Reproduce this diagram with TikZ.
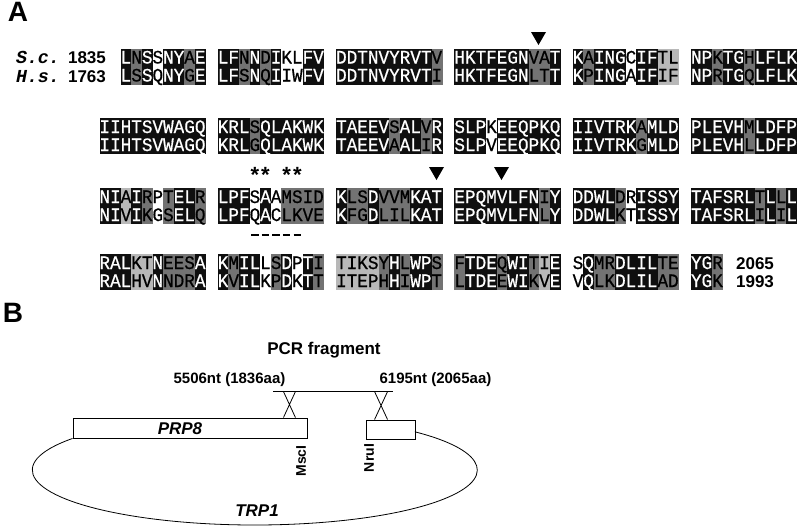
\documentclass[tikz,border=0pt]{standalone}
\usepackage{fontspec}
\setmainfont{Liberation Sans}
\newfontfamily\resfont[FakeStretch=0.93,FakeBold=0.6]{Liberation Mono}
\newfontfamily\specfont{Liberation Mono}
\usetikzlibrary{calc}

\definecolor{shk}{gray}{0.06}
\definecolor{shd}{gray}{0.45}
\definecolor{shl}{gray}{0.72}
\definecolor{shw}{gray}{1}
\colorlet{txk}{white}
\colorlet{txd}{black}
\colorlet{txl}{black}
\colorlet{txw}{black}

\newcommand\resw{10.6}
% one alignment block: x start, y of S.c. row, S.c. residues, H.s. residues, shade codes
\def\splitres#1#2\alnstop{\def\reshd{#1}\def\restl{#2}}
\newcommand\alnblock[5]{%
  \def\alnx{#1}\def\alny{#2}%
  \def\alnsc{#3}\def\alnhs{#4}\def\alncd{#5}%
  \def\alni{0}%
  \alnstep}
\newcommand\alnstep{%
  \ifx\alnsc\empty\else
    \expandafter\splitres\alnsc\alnstop\let\rsc\reshd\let\alnsc\restl
    \expandafter\splitres\alnhs\alnstop\let\rhs\reshd\let\alnhs\restl
    \expandafter\splitres\alncd\alnstop\let\rcd\reshd\let\alncd\restl
    \pgfmathsetmacro\alncx{\alnx+\alni*\resw}%
    \fill[fill=sh\rcd] (\alncx,\alny-9) rectangle ++(\resw+0.4,36);
    \node[res,text=tx\rcd] at (\alncx+\resw/2,\alny+6) {\rsc};
    \node[res,text=tx\rcd] at (\alncx+\resw/2,\alny+24) {\rhs};
    \pgfmathtruncatemacro\alni{\alni+1}%
    \expandafter\alnstep
  \fi}

\tikzset{
  res/.style={font=\resfont\fontsize{19}{19}\selectfont,inner sep=0pt,anchor=base},
  spec/.style={font=\specfont\bfseries\itshape\fontsize{18.3}{18.3}\selectfont,inner sep=0pt,anchor=base},
  num/.style={font=\bfseries\fontsize{17}{17}\selectfont,inner sep=0pt,anchor=base},
  panel/.style={font=\bfseries\fontsize{28}{28}\selectfont,inner sep=0pt},
  lbl/.style={font=\bfseries\fontsize{15}{15}\selectfont,inner sep=0pt},
  gene/.style={font=\bfseries\itshape\fontsize{17}{17}\selectfont,inner sep=0pt},
  site/.style={font=\bfseries\fontsize{14}{14}\selectfont,inner sep=0pt,rotate=90},
  seg/.style={draw,line width=0.9pt,fill=white,inner sep=0pt},
  starmark/.style={font=\bfseries\fontsize{22}{22}\selectfont,inner sep=0pt,anchor=base}
}

\begin{document}
\begin{tikzpicture}[x=1pt,y=-1pt]
  \useasboundingbox (0,0) rectangle (800,528);
  \node[panel] (pa) at (18,12) {A};
  % species and start numbers
  \node[spec] (sc) at (38,63) {S.c.};
  \node[spec] (hs) at (38,82) {H.s.};
  \node[num] (sc1) at (87,63) {1835};
  \node[num] (hs1) at (87,82) {1763};
  % row 1
  \alnblock{120.7}{57.5}{LNSSNYAE}{LSSQNYGE}{kdkwkkdk}
  \alnblock{217.8}{57.5}{LFNNDIKLFV}{LFSNQIIWFV}{kkdkdkwwkk}
  \alnblock{336.1}{57.5}{DDTNVYRVTV}{DDTNVYRVTI}{kkkkkkkkkd}
  \alnblock{454.4}{57.5}{HKTFEGNVAT}{HKTFEGNLTT}{kkkkkkkddk}
  \alnblock{572.7}{57.5}{KAINGCIFTL}{KPINGAIFIF}{kdkkkwkkll}
  \alnblock{691}{57.5}{NPKTGHLFLK}{NPRTGQLFLK}{kkdkkdkkkk}
  % row 2
  \alnblock{99.5}{127}{IIHTSVWAGQ}{IIHTSVWAGQ}{kkkkkkkkkk}
  \alnblock{217.8}{127}{KRLSQLAKWK}{KRLGQLAKWK}{kkkdkkkkkk}
  \alnblock{336.1}{127}{TAEEVSALVR}{TAEEVAALIR}{kkkkkdkkdk}
  \alnblock{454.4}{127}{SLPKEEQPKQ}{SLPVEEQPKQ}{kkkwkkkkkk}
  \alnblock{572.7}{127}{IIVTRKAMLD}{IIVTRKGMLD}{kkkkkkdkkk}
  \alnblock{691}{127}{PLEVHMLDFP}{PLEVHLLDFP}{kkkkkdkkkk}
  % row 3
  \alnblock{99.5}{197}{NIAIRPTELR}{NIVIKGSELQ}{kklkdwdkkd}
  \alnblock{217.8}{197}{LPFSAAMSID}{LPFQACLKVE}{kkkwkwdddd}
  \alnblock{336.1}{197}{KLSDVVMKAT}{KFGDLILKAT}{kddkdddkkk}
  \alnblock{454.4}{197}{EPQMVLFNIY}{EPQMVLFNLY}{kkkkkkkkdk}
  \alnblock{572.7}{197}{DDWLDRISSY}{DDWLKTISSY}{kkkkdwkkkk}
  \alnblock{691}{197}{TAFSRLTLLL}{TAFSRLILIL}{kkkkkkdkdk}
  % row 4
  \alnblock{99.5}{263}{RALKTNEESA}{RALHVNNDRA}{kkkllkdddk}
  \alnblock{217.8}{263}{KMILLSDPTI}{KVILKPDKTT}{kdkkwdkwkd}
  \alnblock{336.1}{263}{TIKSYHLWPS}{ITEPHHIWPT}{lllldkdkkd}
  \alnblock{454.4}{263}{FTDEQWITIE}{LTDEEWIKVE}{dkkkdkkdlk}
  \alnblock{572.7}{263}{SQMRDLILTE}{VQLKDLILAD}{wkddkkkkdd}
  \alnblock{691}{263}{YGR}{YGK}{kkd}
  \node[num] (sc2) at (755,269) {2065};
  \node[num] (hs2) at (755,287) {1993};
  % arrowheads, stars, dashes
  \fill (531,32) -- (546,32) -- (538.5,45) -- cycle;
  \fill (429,167) -- (444,167) -- (436.5,180) -- cycle;
  \fill (494,167) -- (509,167) -- (501.5,180) -- cycle;
  \foreach \i in {3,4,6,7}
    \node[starmark] at (217.8+\i*10.6+5.3,182) {*};
  \foreach \i in {3,...,7}
    \draw[line width=2pt] (217.8+\i*10.6+1.5,235) -- ++(7.5,0);

  \node[panel] (pb) at (13,313) {B};
  \node[lbl,font=\bfseries\fontsize{17}{17}\selectfont] (pcr) at (324,350) {PCR fragment};
  \node[lbl] (nt1) at (229.5,380) {5506nt (1836aa)};
  \node[lbl] (nt2) at (435.5,380) {6195nt (2065aa)};
  \coordinate (fragL) at (273,391);
  \coordinate (fragR) at (393,391);
  \draw[line width=0.9pt] (fragL) -- (fragR);
  \node[seg,minimum width=234pt,minimum height=20pt] (prp) at (190,428) {};
  \node[gene] (prptxt) at (180,429) {PRP8};
  \node[seg,minimum width=49pt,minimum height=19pt] (tail) at (390.5,429.5) {};
  % crossovers
  \draw[line width=0.8pt] ($(prp.north east)+(-24,0)$) -- ++(12,-26)
    ($(prp.north east)+(-12,0)$) -- ++(-12,-26);
  \draw[line width=0.8pt] ($(tail.north west)+(9,0)$) -- ++(13,-28)
    ($(tail.north west)+(22,0)$) -- ++(-13,-28);
  \node[site] (mscI) at (301,461) {MscI};
  \node[site] (nruI) at (369,458) {NruI};
  \draw[line width=0.8pt] (prp.south west) arc[start angle=215,end angle=-44,x radius=222.5,y radius=55];
  \node[gene] (trp) at (257,511) {TRP1};
\end{tikzpicture}
\end{document}
